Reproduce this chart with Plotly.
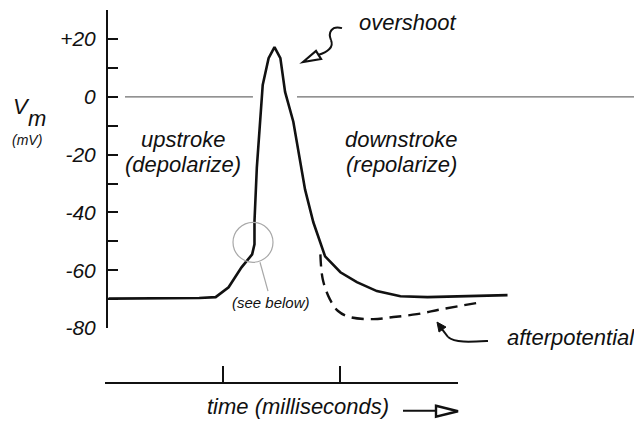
import plotly.graph_objects as go

# page body has an 8px default margin; the photographed page is slightly taller
# than the picture, so vertical positions are mapped with a small factor K
OFF = 8
K = 0.977
W, H = 642 - 2 * OFF, 416

# ---- data (time in ms, membrane potential in mV) ----
ap_time = [0.03, 0.40, 0.80, 0.94, 1.05, 1.16, 1.25, 1.27, 1.27, 1.29, 1.32, 1.34,
           1.39, 1.44, 1.49, 1.53, 1.60, 1.67, 1.70, 1.77, 1.87, 2.00, 2.14, 2.31,
           2.51, 2.74, 3.02, 3.42]
ap_vm = [-69.8, -69.8, -69.6, -69.3, -65.9, -59.0, -54.5, -51.0, -43.1, -24.5, -7.2, 4.1,
         13.4, 17.2, 13.4, 1.7, -8.6, -24.5, -32.1, -43.4, -55.2, -60.7, -64.1, -67.2,
         -69.0, -69.3, -69.0, -68.6]

after_time = [1.83, 1.85, 1.91, 1.98, 2.08, 2.28, 2.45, 2.65, 2.87, 3.21]
after_vm = [-54.5, -63.1, -70.0, -74.1, -76.2, -76.9, -76.2, -75.2, -73.4, -71.0]

zero_time = [0.17, 1.257, None, 1.631, 4.5]
zero_vm = [0, 0, None, 0, 0]

y_tick_vals = [30, 20, 10, 0, -10, -20, -30, -40, -50, -60, -70, -80]
y_tick_text = ["", "+20", "", "0", "", "-20", "", "-40", "", "-60", "", "-80"]
time_tick_vals = [0, 1, 2, 3]

FONT = "Liberation Sans, Arial, sans-serif"
INK = "#111111"


def px(x):
    return (x - OFF) / W


def py(y):
    return 1 - (y / K - OFF) / H


def path(cmds):
    out = []
    for c, pts in cmds:
        if c == "Z":
            out.append("Z")
            continue
        for a, b in pts:
            out.append(f"{c}{px(a):.5f},{py(b):.5f}")
    return " ".join(out)


def curve(p0, c1, c2, p1):
    return (f"M{px(p0[0]):.5f},{py(p0[1]):.5f} "
            f"C{px(c1[0]):.5f},{py(c1[1]):.5f} {px(c2[0]):.5f},{py(c2[1]):.5f} "
            f"{px(p1[0]):.5f},{py(p1[1]):.5f}")


fig = go.Figure()

fig.add_trace(go.Scatter(x=zero_time, y=zero_vm, mode="lines",
                         line=dict(color="#6e6e6e", width=1.3), connectgaps=False,
                         hoverinfo="skip", showlegend=False))
fig.add_trace(go.Scatter(x=after_time, y=after_vm, mode="lines",
                         line=dict(color=INK, width=2.4, dash="12px,7px", shape="spline"),
                         hoverinfo="skip", showlegend=False))
fig.add_trace(go.Scatter(x=ap_time, y=ap_vm, mode="lines",
                         line=dict(color=INK, width=2.6),
                         hoverinfo="skip", showlegend=False))
fig.add_trace(go.Scatter(x=[], y=[], xaxis="x2", yaxis="y2", showlegend=False))

x_lo = (108 - 105) / 117.7
x_hi = (634 - 105) / 117.7

fig.update_layout(
    width=W, height=H,
    margin=dict(l=0, r=0, t=0, b=0),
    paper_bgcolor="white", plot_bgcolor="rgba(0,0,0,0)",
    showlegend=False,
    xaxis=dict(domain=[px(108), px(634)], range=[x_lo, x_hi], visible=False,
               anchor="y"),
    yaxis=dict(domain=[py(329), py(10)], range=[-80, 30], anchor="x",
               showline=True, linecolor=INK, linewidth=2,
               ticks="inside", ticklen=10, tickwidth=2, tickcolor=INK,
               tickvals=y_tick_vals, ticktext=y_tick_text,
               tickfont=dict(family=FONT, size=21, color=INK, style="italic"),
               ticklabelstandoff=6,
               showgrid=False, zeroline=False),
    xaxis2=dict(domain=[px(105), px(458)], range=[0, 3], anchor="y2",
                showline=True, linecolor=INK, linewidth=2,
                ticks="inside", ticklen=16, tickwidth=2, tickcolor=INK,
                tickvals=time_tick_vals, showticklabels=False,
                showgrid=False, zeroline=False),
    yaxis2=dict(domain=[py(383), py(383) + 0.05], anchor="x2", visible=False,
                range=[0, 1]),
)

annos = [
    ("V", 21, 107, 22),
    ("m", 37, 119, 22),
    ("(mV)", 27, 140, 14),
    ("upstroke", 183, 140, 22),
    ("(depolarize)", 183, 165, 22),
    ("downstroke", 401, 140, 22),
    ("(repolarize)", 401, 165, 22),
    ("overshoot", 408, 22, 22),
    ("afterpotential", 571, 338, 22),
    ("time (milliseconds)", 298, 408, 22),
    ("(see below)", 271, 303, 15),
]
for text, x, y, s in annos:
    fig.add_annotation(text=text, x=px(x), y=py(y), xref="paper", yref="paper",
                       xanchor="center", yanchor="middle", showarrow=False,
                       font=dict(family=FONT, size=s, color=INK, style="italic"))

shapes = [
    # magnifier circle and its pointer
    dict(type="circle", xref="paper", yref="paper",
         x0=px(233), x1=px(273), y0=py(263), y1=py(223),
         line=dict(color="#a8a8a8", width=1.2)),
    dict(type="line", xref="paper", yref="paper",
         x0=px(260), y0=py(263), x1=px(268), y1=py(292),
         line=dict(color="#a8a8a8", width=1.2)),
    # overshoot squiggly arrow
    dict(type="path", xref="paper", yref="paper",
         path=curve((342, 28), (331, 25), (328, 33), (331, 40)),
         line=dict(color=INK, width=2)),
    dict(type="path", xref="paper", yref="paper",
         path=curve((331, 40), (334, 47), (328, 52), (318, 55)),
         line=dict(color=INK, width=2)),
    dict(type="path", xref="paper", yref="paper",
         path=path([("M", [(303, 62)]), ("L", [(316, 51), (321, 59)]), ("Z", [])]),
         line=dict(color=INK, width=2.2), fillcolor="white"),
    # time arrow
    dict(type="line", xref="paper", yref="paper",
         x0=px(403), y0=py(412), x1=px(436), y1=py(412),
         line=dict(color=INK, width=2.2)),
    dict(type="path", xref="paper", yref="paper",
         path=path([("M", [(436, 407)]), ("L", [(458, 412.5), (436, 418)]), ("Z", [])]),
         line=dict(color=INK, width=2.4), fillcolor="white"),
    # afterpotential arrow
    dict(type="path", xref="paper", yref="paper",
         path=curve((488, 342), (470, 343), (455, 344), (448, 338)),
         line=dict(color=INK, width=2)),
    dict(type="line", xref="paper", yref="paper",
         x0=px(448), y0=py(338), x1=px(442), y1=py(330),
         line=dict(color=INK, width=2)),
    dict(type="path", xref="paper", yref="paper",
         path=path([("M", [(437, 323)]), ("L", [(446, 328), (439, 333)]), ("Z", [])]),
         line=dict(color=INK, width=1), fillcolor=INK),
]
fig.update_layout(shapes=shapes)

fig.write_html("out.html")
